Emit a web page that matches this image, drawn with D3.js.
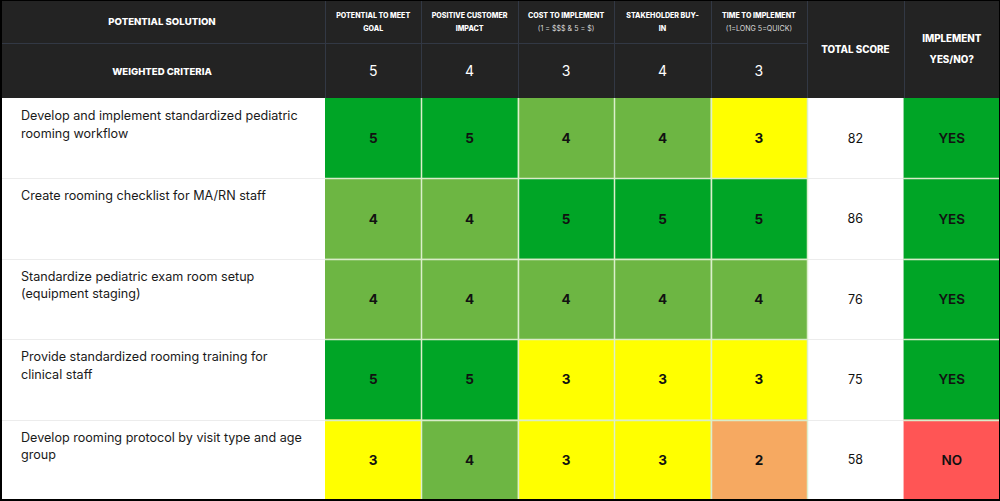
<!DOCTYPE html>
<html><head><meta charset="utf-8">
<script src="https://cdn.jsdelivr.net/npm/d3@7"></script>
<style>
html,body{margin:0;padding:0;background:#fff;}
svg{display:block;}
</style></head>
<body>
<svg id="chart" width="1000" height="501"></svg>
<script>
// ---- data ----
const criteria = ["c1","c2","c3","c4","c5"];
const criteriaTitle1 = ["POTENTIAL TO MEET","POSITIVE CUSTOMER","COST TO IMPLEMENT","STAKEHOLDER BUY-","TIME TO IMPLEMENT"];
const criteriaTitle2 = ["GOAL","IMPACT","(1 = $$$ & 5 = $)","IN","(1=LONG 5=QUICK)"];
const criteriaSubIsNote = [false,false,true,false,true];
const weights = [5,4,3,4,3];
const solutions = [
  "Develop and implement standardized pediatric|rooming workflow",
  "Create rooming checklist for MA/RN staff",
  "Standardize pediatric exam room setup|(equipment staging)",
  "Provide standardized rooming training for|clinical staff",
  "Develop rooming protocol by visit type and age|group"
];
const scores = [
  [5,5,4,4,3],
  [4,4,5,5,5],
  [4,4,4,4,4],
  [5,5,3,3,3],
  [3,4,3,3,2]
];
const totals = [82,86,76,75,58];
const decisions = ["YES","YES","YES","YES","NO"];

// ---- layout ----
const W = 1000, H = 501;
const svg = d3.select("#chart");
const FONT = "Inter, 'Open Sans', sans-serif";
const dark = "#232323";
const cols = [...criteria, "total", "decision"];
const x = d3.scaleBand().domain(cols).range([325, 1000]);
const headerMid = 43, headerBottom = 98;
const y = d3.scaleBand().domain(d3.range(solutions.length)).range([headerBottom, 500]);
const color = d3.scaleOrdinal().domain([5,4,3,2,1]).range(["#00a526","#6db643","#ffff00","#f6a961","#ff5555"]);
const decColor = d3.scaleOrdinal().domain(["YES","NO"]).range(["#00a526","#ff5555"]);

// header background
svg.append("rect").attr("x",0).attr("y",0).attr("width",W).attr("height",headerBottom).attr("fill",dark);
// header grid lines
const hg = svg.append("g").attr("stroke","#323844").attr("stroke-width",1);
hg.append("line").attr("x1",0).attr("x2",x("total")).attr("y1",headerMid+0.5).attr("y2",headerMid+0.5);
cols.forEach(c=>{
  hg.append("line").attr("x1",Math.round(x(c))+0.5).attr("x2",Math.round(x(c))+0.5).attr("y1",0).attr("y2",headerBottom);
});

// header texts
const ht = svg.append("g").attr("font-family",FONT).attr("fill","#fff").attr("text-anchor","middle");
ht.append("text").attr("x",162).attr("y",25).attr("font-size",9.6).attr("font-weight",800).text("POTENTIAL SOLUTION");
ht.append("text").attr("x",162).attr("y",75).attr("font-size",9.6).attr("font-weight",800).text("WEIGHTED CRITERIA");
criteria.forEach((c,i)=>{
  const cx = x(c)+x.bandwidth()/2;
  ht.append("text").attr("x",cx).attr("y",18).attr("font-size",7.1).attr("font-weight",800).text(criteriaTitle1[i]);
  ht.append("text").attr("x",cx).attr("y",31).attr("font-size",7.1)
    .attr("font-weight",criteriaSubIsNote[i]?400:800)
    .attr("fill",criteriaSubIsNote[i]?"#d8d8d8":"#fff")
    .text(criteriaTitle2[i]);
  ht.append("text").attr("x",cx).attr("y",76).attr("font-size",14).attr("font-weight",400).text(weights[i]);
});
ht.append("text").attr("x",x("total")+x.bandwidth()/2).attr("y",53).attr("font-size",9.8).attr("font-weight",800).text("TOTAL SCORE");
ht.append("text").attr("x",x("decision")+x.bandwidth()/2).attr("y",42).attr("font-size",9.8).attr("font-weight",800).text("IMPLEMENT");
ht.append("text").attr("x",x("decision")+x.bandwidth()/2).attr("y",63).attr("font-size",9.8).attr("font-weight",800).text("YES/NO?");

// body rows
const rows = svg.selectAll("g.row").data(solutions).enter().append("g").attr("class","row");
rows.append("rect").attr("x",0).attr("y",(d,i)=>y(i)).attr("width",x("c1")).attr("height",y.bandwidth()).attr("fill","#fff");
rows.each(function(d,i){
  const g = d3.select(this);
  const t = g.append("text").attr("font-family",FONT).attr("font-size",12.6).attr("fill","#1a1a1a");
  d.split("|").forEach((line,k)=>{
    t.append("tspan").attr("x",21).attr("y",y(i)+22+k*17.5).text(line);
  });
  scores[i].forEach((s,j)=>{
    const c = criteria[j];
    g.append("rect").attr("x",x(c)).attr("y",y(i)).attr("width",x.bandwidth()).attr("height",y.bandwidth()).attr("fill",color(s));
    g.append("text").attr("x",x(c)+x.bandwidth()/2).attr("y",y(i)+y.bandwidth()/2+5)
      .attr("text-anchor","middle").attr("font-family",FONT).attr("font-size",13.5).attr("font-weight",700).attr("fill","#111").text(s);
  });
  g.append("rect").attr("x",x("total")).attr("y",y(i)).attr("width",x.bandwidth()).attr("height",y.bandwidth()).attr("fill","#fff");
  g.append("text").attr("x",x("total")+x.bandwidth()/2).attr("y",y(i)+y.bandwidth()/2+4.5)
    .attr("text-anchor","middle").attr("font-family",FONT).attr("font-size",12.5).attr("font-weight",400).attr("fill","#111").text(totals[i]);
  g.append("rect").attr("x",x("decision")).attr("y",y(i)).attr("width",x.bandwidth()).attr("height",y.bandwidth()).attr("fill",decColor(decisions[i]));
  g.append("text").attr("x",x("decision")+x.bandwidth()/2).attr("y",y(i)+y.bandwidth()/2+5)
    .attr("text-anchor","middle").attr("font-family",FONT).attr("font-size",13.5).attr("font-weight",600).attr("fill","#111").text(decisions[i]);
});

// body grid lines
const bg = svg.append("g");
d3.range(1,solutions.length).forEach(i=>{
  const yy = Math.round(y(i))+0.5;
  bg.append("line").attr("x1",0).attr("x2",x("c1")).attr("y1",yy).attr("y2",yy).attr("stroke","#ececec");
  bg.append("line").attr("x1",x("c1")).attr("x2",x("total")).attr("y1",yy).attr("y2",yy).attr("stroke","#d9ecc9").attr("stroke-width",1.5);
  bg.append("line").attr("x1",x("total")).attr("x2",x("decision")).attr("y1",yy).attr("y2",yy).attr("stroke","#ececec");
  bg.append("line").attr("x1",x("decision")).attr("x2",W).attr("y1",yy).attr("y2",yy).attr("stroke","#d9ecc9").attr("stroke-width",1.5);
});
criteria.slice(1).concat(["total"]).forEach(c=>{
  const xx = Math.round(x(c))+0.5;
  bg.append("line").attr("x1",xx).attr("x2",xx).attr("y1",headerBottom).attr("y2",500).attr("stroke","#dcefcc").attr("stroke-width",1.5);
});

// outer border (left/bottom 2px, right/top 1px)
const border = svg.append("g").attr("stroke","#000");
border.append("line").attr("x1",1).attr("x2",1).attr("y1",0).attr("y2",H).attr("stroke-width",2);
border.append("line").attr("x1",0).attr("x2",W).attr("y1",H-1).attr("y2",H-1).attr("stroke-width",2);
border.append("line").attr("x1",W-0.5).attr("x2",W-0.5).attr("y1",0).attr("y2",H).attr("stroke-width",1);
border.append("line").attr("x1",0).attr("x2",W).attr("y1",0.5).attr("y2",0.5).attr("stroke-width",1);
</script>
</body></html>
